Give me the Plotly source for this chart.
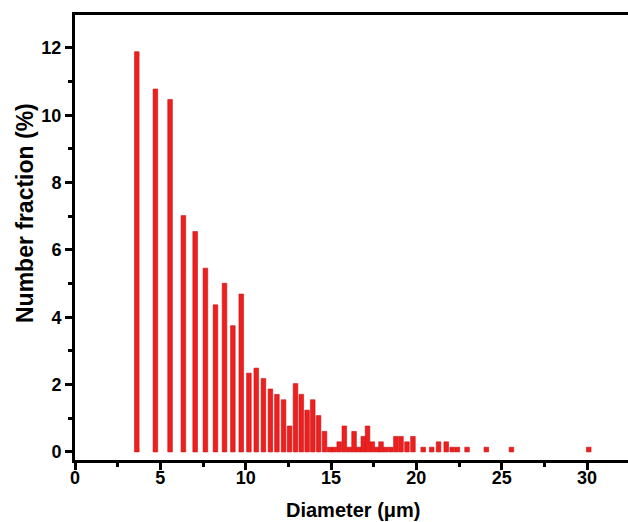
import plotly.graph_objects as go

diameter = [3.62, 4.71, 5.57, 6.35, 7.04, 7.64, 8.23, 8.76, 9.25, 9.74,
            10.19, 10.62, 11.04, 11.45, 11.83, 12.22, 12.57, 12.92, 13.26, 13.60,
            13.93, 14.27, 14.62, 14.92, 15.19, 15.48, 15.78, 16.07, 16.35, 16.62,
            16.89, 17.14, 17.42, 17.70, 17.93, 18.20, 18.50, 18.80, 19.10, 19.45,
            19.80, 20.40, 20.90, 21.30, 21.75, 22.10, 22.40, 22.97, 24.10, 25.57,
            30.10]
fraction = [11.89, 10.78, 10.47, 7.02, 6.55, 5.46, 4.37, 5.01, 3.75, 4.69,
            2.34, 2.49, 2.18, 1.87, 1.71, 1.55, 0.77, 2.03, 1.71, 1.24,
            1.55, 1.08, 0.61, 0.14, 0.14, 0.30, 0.77, 0.14, 0.61, 0.14,
            0.46, 0.77, 0.30, 0.14, 0.30, 0.14, 0.14, 0.46, 0.46, 0.30,
            0.46, 0.14, 0.14, 0.30, 0.30, 0.14, 0.14, 0.14, 0.14, 0.14,
            0.14]

x_ticks = [0, 5, 10, 15, 20, 25, 30]
y_ticks = [0, 2, 4, 6, 8, 10, 12]
x_title = "Diameter (μm)"
y_title = "Number fraction (%)"

fig = go.Figure()
fig.add_trace(go.Bar(
    x=diameter, y=fraction, width=0.27,
    marker=dict(color="#ee1f1f", line=dict(color="#c81414", width=0.6)),
))

font_family = "Liberation Sans, Arial, sans-serif"
fig.update_layout(
    width=628, height=522,
    margin=dict(l=75, r=0, t=15, b=62),
    paper_bgcolor="white", plot_bgcolor="white",
    showlegend=False,
    font=dict(family=font_family, color="black"),
    xaxis=dict(
        range=[0, 32.4], tickvals=x_ticks, ticktext=[str(v) for v in x_ticks],
        ticks="outside", ticklen=7, tickwidth=3, tickcolor="black",
        showline=True, linewidth=3, linecolor="black", mirror=True,
        showgrid=False, zeroline=False, automargin=False,
        ticklabelstandoff=-8,
        tickfont=dict(size=18, family=font_family, weight="bold"),
        minor=dict(tickvals=[2.5, 7.5, 12.5, 17.5, 22.5, 27.5], ticks="outside",
                   ticklen=4, tickwidth=3, tickcolor="black", showgrid=False),
    ),
    yaxis=dict(
        range=[-0.24, 12.98], tickvals=y_ticks, ticktext=[str(v) for v in y_ticks],
        ticks="outside", ticklen=7, tickwidth=3, tickcolor="black",
        showline=True, linewidth=3, linecolor="black", mirror=False,
        showgrid=False, zeroline=False, automargin=False,
        tickfont=dict(size=18, family=font_family, weight="bold"),
        minor=dict(tickvals=[1, 3, 5, 7, 9, 11], ticks="outside",
                   ticklen=4, tickwidth=3, tickcolor="black", showgrid=False),
    ),
    annotations=[
        dict(text=x_title, xref="paper", yref="paper", x=0.5045, y=-0.112,
             xanchor="center", yanchor="middle", showarrow=False,
             font=dict(size=20, family=font_family, weight="bold", color="black")),
        dict(text=y_title, xref="paper", yref="paper", x=-0.0904, y=0.555,
             xanchor="center", yanchor="middle", showarrow=False, textangle=-90,
             font=dict(size=23, family=font_family, weight="bold", color="black")),
    ],
)

fig.write_html(
    "out.html",
    config={"displayModeBar": False},
    post_script="document.body.style.margin='0';document.body.style.overflow='hidden';",
)
